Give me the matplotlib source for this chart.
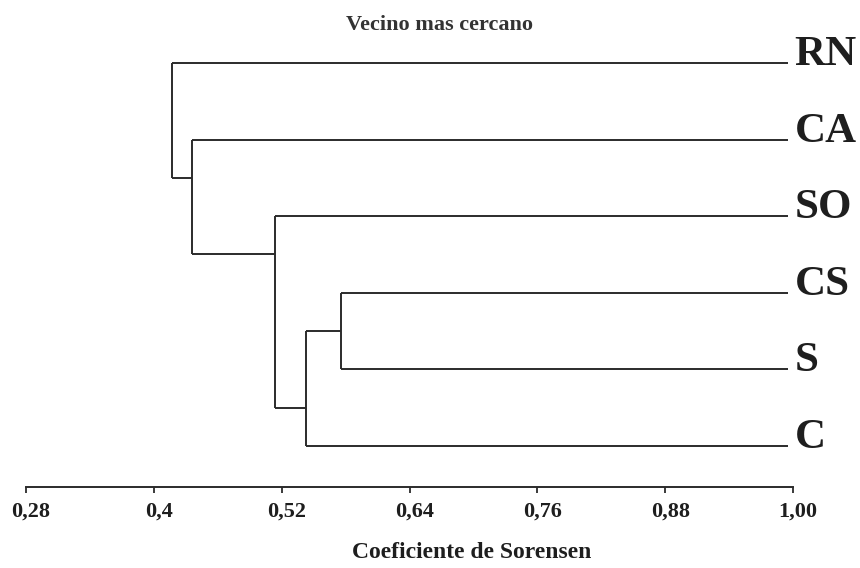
import matplotlib.pyplot as plt
import matplotlib.transforms as mtransforms
import numpy as np

# Data: sites and nearest-neighbour joins (Sorensen similarity)
leaves = ['RN', 'CA', 'SO', 'CS', 'S', 'C']
link_a = [3, 6, 2, 1, 0]          # cluster ids, leaves are 0..5, new nodes 6..
link_b = [4, 5, 7, 8, 9]
link_h = [0.576, 0.543, 0.514, 0.436, 0.417]

tick_values = [0.28, 0.40, 0.52, 0.64, 0.76, 0.88, 1.00]
tick_labels = ['0,28', '0,4', '0,52', '0,64', '0,76', '0,88', '1,00']

line_col = '#2b2b2b'
text_col = '#1e1e1e'
serif = ['Liberation Serif', 'DejaVu Serif']

fig = plt.figure(figsize=(8.6, 5.68), dpi=100)
ax = fig.add_axes([26 / 860, 1 - 487 / 568, (793 - 26) / 860, (487 - 20) / 568])
ax.set_xlim(0.28, 1.00)
ax.set_ylim(5.535, -0.561)

leaf_end = 0.995
node_y = {i: float(i) for i in range(len(leaves))}
node_x = {i: leaf_end for i in range(len(leaves))}

n = len(leaves)
for k, (a, b, h) in enumerate(zip(link_a, link_b, link_h)):
    ya, yb = node_y[a], node_y[b]
    # horizontal arms to the children
    for c in (a, b):
        ax.plot([h, node_x[c]], [node_y[c], node_y[c]], color=line_col, lw=1.4,
                solid_capstyle='butt')
    ax.plot([h, h], [ya, yb], color=line_col, lw=1.4, solid_capstyle='butt')
    # place the new node half a row away from its single-leaf child
    if a < n and b >= n:
        y_new = ya + 0.5 * np.sign(yb - ya)
    elif b < n and a >= n:
        y_new = yb + 0.5 * np.sign(ya - yb)
    else:
        y_new = (ya + yb) / 2
    node_y[n + k] = y_new
    node_x[n + k] = h

for i, name in enumerate(leaves):
    ax.annotate(name, (leaf_end, node_y[i]), xytext=(5, -1.5), textcoords='offset points',
                ha='left', va='baseline', fontsize=31, fontweight='bold',
                family=serif, color=text_col, annotation_clip=False)

for s in ['top', 'right', 'left']:
    ax.spines[s].set_visible(False)
ax.spines['bottom'].set_color(line_col)
ax.spines['bottom'].set_linewidth(1.4)
ax.set_yticks([])
ax.set_xticks(tick_values)
ax.set_xticklabels(tick_labels, fontsize=16, fontweight='bold', family=serif, color=text_col)
ax.tick_params(axis='x', direction='out', length=4.5, width=1.3, color=line_col, pad=6)
shift = mtransforms.ScaledTranslation(5 / 100, 0, fig.dpi_scale_trans)
for lab in ax.get_xticklabels():
    lab.set_transform(lab.get_transform() + shift)

fig.text(439 / 860, 1 - 25 / 568, 'Vecino mas cercano', ha='center', va='center',
         fontsize=16, fontweight='bold', family=serif, color='#333333')
fig.text(472 / 860, 1 - 553 / 568, 'Coeficiente de Sorensen', ha='center', va='center',
         fontsize=17, fontweight='bold', family=serif, color=text_col)

plt.savefig('out.png', dpi=100, facecolor='white')
plt.close()
